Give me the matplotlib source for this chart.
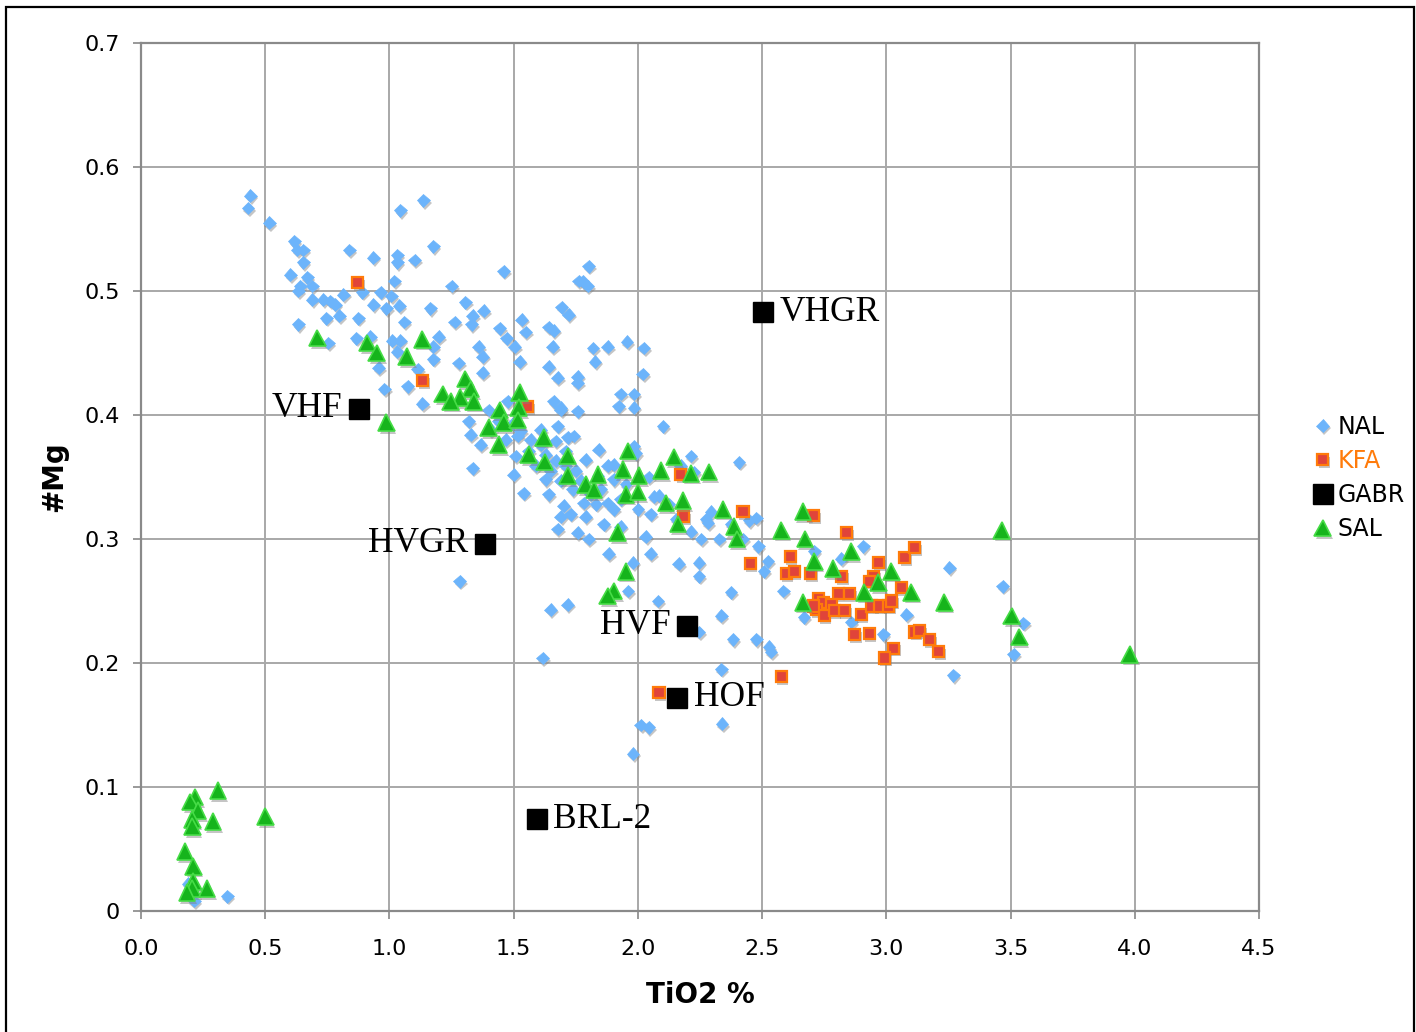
import matplotlib
matplotlib.use("Agg")
import matplotlib.pyplot as plt
import matplotlib.patheffects as pe
from matplotlib.patches import Rectangle

# ---- data (TiO2 %, #Mg) ----
nal_x = [0.440, 0.431, 0.516, 0.617, 0.629, 0.653, 0.653, 0.601, 0.669, 0.641, 0.690, 0.633,
         0.690, 0.734, 0.762, 0.782, 0.815, 0.839, 0.935, 1.032, 1.032, 1.101, 1.044, 1.137,
         1.177, 1.020, 0.891, 0.964, 1.008, 0.746, 0.633, 0.798, 0.875, 0.935, 0.988, 1.040,
         1.060, 0.867, 0.754, 0.923, 1.012, 1.044, 1.032, 0.956, 0.980, 1.073, 1.133, 1.113,
         1.165, 1.198, 1.177, 1.177, 1.250, 1.306, 1.335, 1.379, 1.331, 1.262, 1.278, 1.359,
         1.375, 1.375, 1.460, 1.444, 1.472, 1.504, 1.532, 1.548, 1.524, 1.641, 1.661, 1.694,
         1.722, 1.657, 1.641, 1.677, 1.758, 1.758, 1.762, 1.802, 1.778, 1.798, 1.819, 1.879,
         1.956, 2.024, 1.827, 2.020, 1.931, 1.984, 1.923, 1.984, 1.661, 1.690, 1.758, 1.476,
         1.399, 1.319, 1.327, 1.367, 1.335, 1.500, 1.540, 1.677, 1.718, 1.516, 1.702, 1.677,
         1.730, 1.758, 1.802, 1.790, 1.782, 1.843, 1.879, 1.839, 1.903, 1.851, 1.879, 1.903,
         1.863, 1.931, 1.984, 1.992, 2.000, 2.032, 2.044, 2.065, 2.085, 2.101, 2.214, 2.173,
         2.226, 2.294, 2.274, 2.214, 2.254, 2.327, 2.407, 2.448, 2.476, 1.690, 1.742, 1.903,
         1.690, 1.883, 1.980, 2.052, 2.165, 2.246, 2.246, 2.282, 2.484, 2.524, 2.508, 2.375,
         2.585, 2.710, 2.907, 2.819, 1.960, 2.081, 2.335, 2.246, 2.383, 2.476, 2.528, 2.536,
         2.669, 2.859, 2.988, 3.081, 3.254, 3.468, 3.270, 2.335, 1.718, 1.649, 1.617, 2.339,
         2.012, 2.044, 1.980, 1.282, 3.552, 3.512, 0.347, 0.214, 0.190,
         1.496, 1.528, 1.569, 1.609, 1.560, 1.629, 1.669, 1.589, 1.649, 1.710, 1.750, 1.690,
         1.770, 1.810, 1.738, 1.629, 1.468, 1.508, 1.609, 1.669, 1.710, 1.440, 1.407, 1.641,
         1.790, 1.831, 1.931, 1.952, 2.052, 2.125, 2.153, 2.375, 2.423]
nal_y = [0.577, 0.567, 0.555, 0.540, 0.533, 0.533, 0.523, 0.513, 0.511, 0.504, 0.504, 0.500,
         0.493, 0.493, 0.492, 0.489, 0.497, 0.533, 0.527, 0.529, 0.523, 0.525, 0.565, 0.573,
         0.536, 0.508, 0.499, 0.499, 0.496, 0.478, 0.473, 0.480, 0.478, 0.489, 0.486, 0.488,
         0.475, 0.462, 0.458, 0.463, 0.460, 0.460, 0.451, 0.438, 0.421, 0.423, 0.409, 0.437,
         0.486, 0.463, 0.455, 0.445, 0.504, 0.491, 0.480, 0.484, 0.473, 0.475, 0.442, 0.455,
         0.447, 0.434, 0.516, 0.470, 0.462, 0.455, 0.477, 0.467, 0.443, 0.471, 0.468, 0.487,
         0.481, 0.455, 0.439, 0.430, 0.431, 0.426, 0.508, 0.520, 0.508, 0.504, 0.454, 0.455,
         0.459, 0.454, 0.443, 0.433, 0.417, 0.417, 0.407, 0.406, 0.411, 0.406, 0.403, 0.411,
         0.404, 0.395, 0.384, 0.376, 0.357, 0.352, 0.337, 0.391, 0.382, 0.383, 0.327, 0.308,
         0.320, 0.305, 0.300, 0.318, 0.329, 0.372, 0.359, 0.351, 0.348, 0.340, 0.329, 0.324,
         0.312, 0.310, 0.375, 0.369, 0.324, 0.302, 0.350, 0.334, 0.335, 0.391, 0.367, 0.359,
         0.354, 0.322, 0.316, 0.306, 0.300, 0.300, 0.362, 0.315, 0.317, 0.404, 0.383, 0.360,
         0.318, 0.288, 0.281, 0.288, 0.280, 0.281, 0.270, 0.313, 0.294, 0.282, 0.274, 0.257,
         0.258, 0.290, 0.294, 0.284, 0.258, 0.250, 0.238, 0.225, 0.219, 0.219, 0.213, 0.209,
         0.237, 0.233, 0.223, 0.239, 0.277, 0.262, 0.190, 0.195, 0.247, 0.243, 0.204, 0.151,
         0.150, 0.148, 0.127, 0.266, 0.232, 0.207, 0.012, 0.008, 0.022,
         0.393, 0.387, 0.380, 0.376, 0.371, 0.368, 0.363, 0.359, 0.355, 0.359, 0.355, 0.347,
         0.347, 0.336, 0.340, 0.348, 0.380, 0.367, 0.388, 0.379, 0.371, 0.395, 0.388, 0.336,
         0.364, 0.328, 0.332, 0.344, 0.320, 0.328, 0.316, 0.312, 0.300]

kfa_x = [0.871, 1.133, 1.556, 2.173, 2.423, 2.185, 2.706, 2.839, 2.613, 2.452, 2.597, 2.629,
         2.694, 2.819, 2.968, 2.948, 2.931, 3.073, 3.113, 3.060, 2.806, 2.851, 2.726, 2.746,
         2.778, 2.718, 2.750, 2.790, 2.831, 2.899, 2.940, 2.972, 3.008, 3.020, 2.871, 2.931,
         3.028, 2.992, 3.113, 3.133, 3.173, 3.210, 2.577, 2.085, 2.706]
kfa_y = [0.507, 0.428, 0.407, 0.352, 0.322, 0.318, 0.319, 0.305, 0.286, 0.280, 0.272, 0.274,
         0.272, 0.270, 0.281, 0.270, 0.266, 0.285, 0.293, 0.261, 0.256, 0.256, 0.252, 0.249,
         0.247, 0.243, 0.238, 0.242, 0.242, 0.239, 0.246, 0.246, 0.246, 0.250, 0.223, 0.224,
         0.212, 0.204, 0.225, 0.226, 0.219, 0.209, 0.189, 0.176, 0.246]

gabr_names = ["VHGR", "VHF", "HVGR", "HVF", "HOF", "BRL-2"]
gabr_x = [2.504, 0.879, 1.383, 2.198, 2.157, 1.593]
gabr_y = [0.483, 0.405, 0.296, 0.230, 0.172, 0.074]
gabr_side = ["right", "left", "left", "left", "right", "right"]

sal_x = [0.710, 0.911, 0.948, 1.069, 1.133, 0.988, 1.214, 1.306, 1.327, 1.286, 1.246, 1.339,
         1.444, 1.524, 1.520, 1.399, 1.460, 1.516, 1.440, 1.621, 1.560, 1.625, 1.718, 1.718,
         1.790, 1.823, 1.839, 1.960, 1.940, 2.004, 1.952, 2.000, 2.093, 2.145, 2.214, 2.286,
         2.113, 2.181, 2.161, 2.343, 2.387, 2.399, 2.577, 2.665, 2.673, 2.710, 2.786, 2.859,
         2.911, 2.968, 3.020, 3.101, 3.234, 2.665, 1.919, 1.952, 1.903, 1.879, 3.464, 3.504,
         3.536, 3.980, 0.310, 0.218, 0.198, 0.230, 0.206, 0.206, 0.290, 0.500, 0.177, 0.210,
         0.210, 0.206, 0.266, 0.185]
sal_y = [0.462, 0.458, 0.450, 0.447, 0.461, 0.394, 0.417, 0.429, 0.421, 0.414, 0.411, 0.411,
         0.404, 0.418, 0.406, 0.390, 0.394, 0.396, 0.376, 0.382, 0.368, 0.362, 0.367, 0.351,
         0.344, 0.340, 0.352, 0.371, 0.356, 0.351, 0.336, 0.338, 0.355, 0.366, 0.353, 0.354,
         0.329, 0.331, 0.312, 0.324, 0.310, 0.300, 0.307, 0.322, 0.300, 0.282, 0.276, 0.290,
         0.257, 0.265, 0.274, 0.257, 0.249, 0.249, 0.305, 0.274, 0.258, 0.254, 0.307, 0.238,
         0.221, 0.207, 0.097, 0.092, 0.088, 0.081, 0.074, 0.068, 0.072, 0.076, 0.048, 0.036,
         0.024, 0.018, 0.018, 0.015]

x_ticks = [0.0, 0.5, 1.0, 1.5, 2.0, 2.5, 3.0, 3.5, 4.0, 4.5]
y_ticks = [0, 0.1, 0.2, 0.3, 0.4, 0.5, 0.6, 0.7]
y_tick_labels = ["0", "0.1", "0.2", "0.3", "0.4", "0.5", "0.6", "0.7"]

# ---- figure ----
plt.rcParams['font.family'] = ['DejaVu Sans']
fig = plt.figure(figsize=(14.16, 10.32), dpi=100)
ax = fig.add_axes([141 / 1416, 1 - 911 / 1032, 1118 / 1416, 868 / 1032])

shadow = [pe.SimplePatchShadow(offset=(1.2, -2.0), shadow_rgbFace='#808080', alpha=0.45), pe.Normal()]

ax.plot(nal_x, nal_y, ls='none', marker='D', ms=6.5, mfc='#6cb4fb', mec='#6cb4fb', mew=0.5,
        label='NAL', path_effects=shadow, zorder=3)
ax.plot(kfa_x, kfa_y, ls='none', marker='s', ms=8, mfc='#e0443a', mec='#ff7b0a', mew=1.6,
        label='KFA', path_effects=shadow, zorder=4)
ax.plot(gabr_x, gabr_y, ls='none', marker='s', ms=14, mfc='black', mec='black',
        label='GABR', zorder=6)
ax.plot(sal_x, sal_y, ls='none', marker='^', ms=12, mfc='#16b41c', mec='#46dc46', mew=1.2,
        label='SAL', path_effects=shadow, zorder=5)

for name, gx, gy, side in zip(gabr_names, gabr_x, gabr_y, gabr_side):
    off = 12 if side == 'right' else -12
    ax.annotate(name, (gx, gy), xytext=(off, 0), textcoords='offset points',
                ha='left' if side == 'right' else 'right', va='center',
                fontsize=25.5, family='Liberation Serif', zorder=7)

ax.set_xlim(0, 4.5)
ax.set_ylim(0, 0.7)
ax.set_xticks(x_ticks)
ax.set_xticklabels([f"{t:.1f}" for t in x_ticks])
ax.set_yticks(y_ticks)
ax.set_yticklabels(y_tick_labels)
ax.tick_params(labelsize=16, length=6, width=1.2, color='#888888')
ax.tick_params(axis='x', pad=14)
ax.tick_params(axis='y', pad=9)
ax.grid(True, color='#a8a8a8', lw=1.4)
ax.set_axisbelow(True)
for s in ax.spines.values():
    s.set_color('#8a8a8a')
    s.set_linewidth(1.6)

ax.set_xlabel('TiO2 %', fontsize=20, fontweight='bold', labelpad=16)
ax.set_ylabel('#Mg', fontsize=20, fontweight='bold', labelpad=12)

leg = fig.legend(loc='center left', bbox_to_anchor=(1299 / 1416, 1 - 478 / 1032), frameon=False,
                 fontsize=17, handletextpad=0.05, labelspacing=0.43, handlelength=1.2,
                 borderaxespad=0)
for t in leg.get_texts():
    if t.get_text() == 'KFA':
        t.set_color('#ff7b0a')

fig.patches.append(Rectangle((6 / 1416, -0.05), 1408 / 1416, 1.05 - 7 / 1032,
                             transform=fig.transFigure, fill=False, ec='black', lw=1.6))

fig.savefig('out.png', dpi=100)
